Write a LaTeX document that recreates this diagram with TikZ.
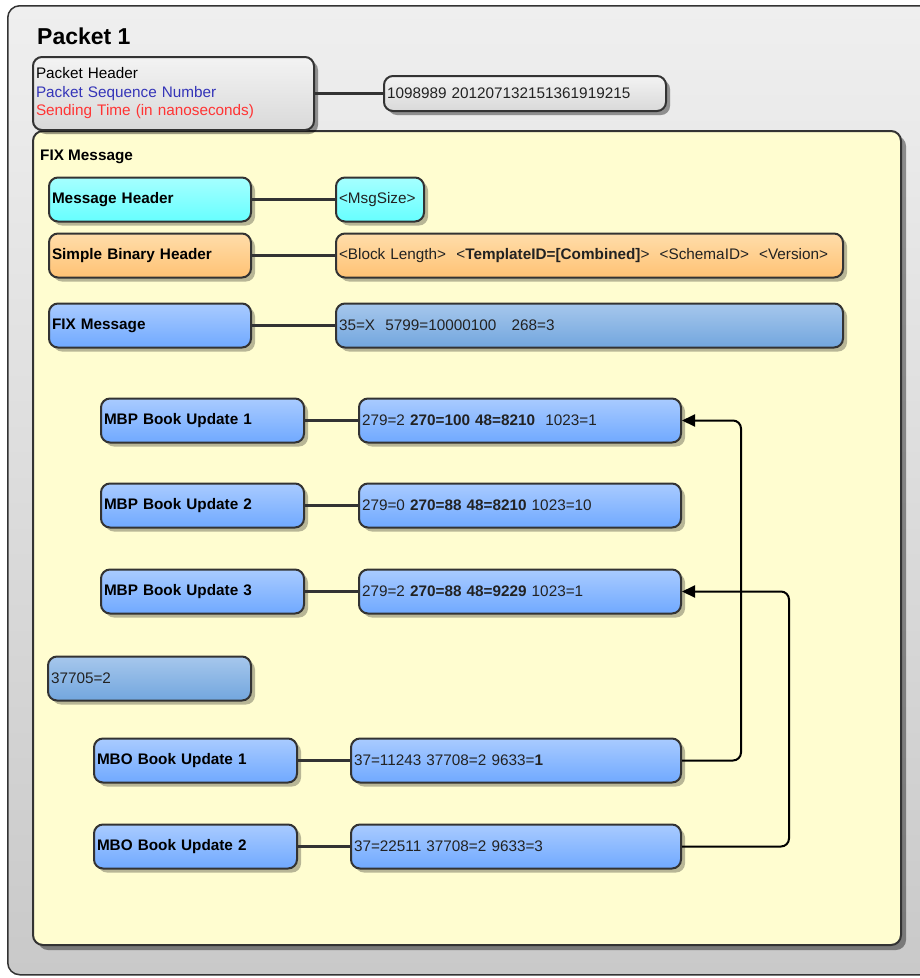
\documentclass[tikz,border=0pt]{standalone}
\usepackage{fontspec}
\setmainfont{Liberation Sans}
\usetikzlibrary{shadows,arrows.meta}
\definecolor{edge}{HTML}{333333}
\definecolor{grayT}{HTML}{EFEFEF}
\definecolor{grayB}{HTML}{C9C9C9}
\definecolor{paper}{HTML}{FFFDD0}
\definecolor{cyanT}{HTML}{A6FFFF}
\definecolor{cyanB}{HTML}{66FFFF}
\definecolor{orT}{HTML}{FFDDAA}
\definecolor{orB}{HTML}{FFC274}
\definecolor{blT}{HTML}{A9CBFF}
\definecolor{blB}{HTML}{70A9FF}
\definecolor{stT}{HTML}{A6C7EC}
\definecolor{stB}{HTML}{72A6DE}
\definecolor{hdrT}{HTML}{F3F3F3}
\definecolor{hdrB}{HTML}{D9D9D9}
\definecolor{seqblue}{HTML}{3434B8}
\definecolor{timered}{HTML}{FF3434}
\definecolor{valtext}{HTML}{222222}
\newcommand\myfs{\fontsize{15.3}{18.5}\selectfont}
\begin{document}
\begin{tikzpicture}[x=1pt,y=-1pt,
  box/.style={draw=edge, line width=2pt, rounded corners=9pt, anchor=west,
    inner xsep=3pt, inner ysep=0pt, align=left, font=\myfs,
    minimum height=44pt,
    drop shadow={shadow xshift=4pt, shadow yshift=-4pt, opacity=0.28, fill=black}},
  lbl/.style={box, font=\myfs\bfseries, text=black},
  val/.style={box, text=valtext},
  cyanbox/.style={top color=cyanT, bottom color=cyanB},
  orbox/.style={top color=orT, bottom color=orB},
  bluebox/.style={top color=blT, bottom color=blB},
  steelbox/.style={top color=stT, bottom color=stB},
  conn/.style={draw=edge, line width=2.5pt},
  arr/.style={draw=black, line width=2pt, rounded corners=8pt,
    -{Triangle[length=13pt,width=12pt]}}
]
\useasboundingbox (0,0) rectangle (920,978);

% outer packet container
\node[draw=edge, line width=1.5pt, rounded corners=12pt, top color=grayT, bottom color=grayB,
  minimum width=930pt, minimum height=969pt, anchor=north west, inner sep=0pt] (packet) at (7,5) {};
\node[anchor=west, font=\fontsize{23}{26}\selectfont\bfseries, inner sep=0pt] (ptitle) at (37,36) {Packet 1};

% FIX message container
\node[draw=edge, line width=2pt, rounded corners=10pt, fill=paper,
  minimum width=868pt, minimum height=814pt, anchor=north west, inner sep=0pt,
  drop shadow={shadow xshift=5pt, shadow yshift=-5pt, opacity=0.4, fill=black}] (fixbox) at (32,130) {};
\node[anchor=west, font=\myfs\bfseries, inner sep=0pt] (fixtitle) at (40,157) {FIX Message};

% packet header
\node[box, top color=hdrT, bottom color=hdrB, text width=275pt, minimum height=73pt,
  drop shadow={shadow xshift=4pt, shadow yshift=-4pt, opacity=0.15, fill=black}] (phdr) at (32,93.5)
  {Packet Header\\\textcolor{seqblue}{Packet Sequence Number}\\\textcolor{timered}{Sending Time (in nanoseconds)}};
\node[val, top color=hdrT, bottom color=hdrB, text width=276pt, minimum height=35pt,
  drop shadow={shadow xshift=4pt, shadow yshift=-4pt, opacity=0.15, fill=black}] (phdrv) at (383,93.5)
  {1098989 201207132151361919215};
\draw[conn] (phdr.east) -- (phdrv.west);

% message header
\node[lbl, cyanbox, text width=196pt] (mh) at (48,199.5) {Message Header};
\node[val, cyanbox, text width=82pt] (mhv) at (335,199.5) {<MsgSize>};
\draw[conn] (mh.east) -- (mhv.west);

% simple binary header
\node[lbl, orbox, text width=196pt] (sbh) at (48,255.5) {Simple Binary Header};
\node[val, orbox, text width=501pt] (sbhv) at (335,255.5)
  {<Block Length>\ \ <\textbf{TemplateID=[Combined]}>\ \ <SchemaID>\ \ <Version>};
\draw[conn] (sbh.east) -- (sbhv.west);

% FIX message
\node[lbl, bluebox, text width=196pt] (fix) at (48,325.5) {FIX Message};
\node[val, steelbox, text width=501pt] (fixv) at (335,325.5) {35=X\ \ 5799=10000100\ \ \ 268=3};
\draw[conn] (fix.east) -- (fixv.west);

% MBP book updates
\node[lbl, bluebox, text width=197pt] (mbp1) at (100,420.5) {MBP Book Update 1};
\node[val, bluebox, text width=316pt] (mbp1v) at (358,420.5) {279=2 \textbf{270=100 48=8210}\ \ 1023=1};
\draw[conn] (mbp1.east) -- (mbp1v.west);

\node[lbl, bluebox, text width=197pt] (mbp2) at (100,505.5) {MBP Book Update 2};
\node[val, bluebox, text width=316pt] (mbp2v) at (358,505.5) {279=0 \textbf{270=88 48=8210} 1023=10};
\draw[conn] (mbp2.east) -- (mbp2v.west);

\node[lbl, bluebox, text width=197pt] (mbp3) at (100,591.5) {MBP Book Update 3};
\node[val, bluebox, text width=316pt] (mbp3v) at (358,591.5) {279=2 \textbf{270=88 48=9229} 1023=1};
\draw[conn] (mbp3.east) -- (mbp3v.west);

% 37705
\node[val, steelbox, text width=197pt] (n37705) at (47,678.5) {37705=2};

% MBO book updates
\node[lbl, bluebox, text width=197pt] (mbo1) at (93,760.5) {MBO Book Update 1};
\node[val, bluebox, text width=324pt] (mbo1v) at (350,760.5) {37=11243 37708=2 9633=\textbf{1}};
\draw[conn] (mbo1.east) -- (mbo1v.west);

\node[lbl, bluebox, text width=197pt] (mbo2) at (93,846.5) {MBO Book Update 2};
\node[val, bluebox, text width=324pt] (mbo2v) at (350,846.5) {37=22511 37708=2 9633=3};
\draw[conn] (mbo2.east) -- (mbo2v.west);

% references
\draw[arr] (mbo1v.east) -- ++(59,0) |- (mbp1v.east);
\draw[arr] (mbo2v.east) -- ++(107,0) |- (mbp3v.east);
\end{tikzpicture}
\end{document}
